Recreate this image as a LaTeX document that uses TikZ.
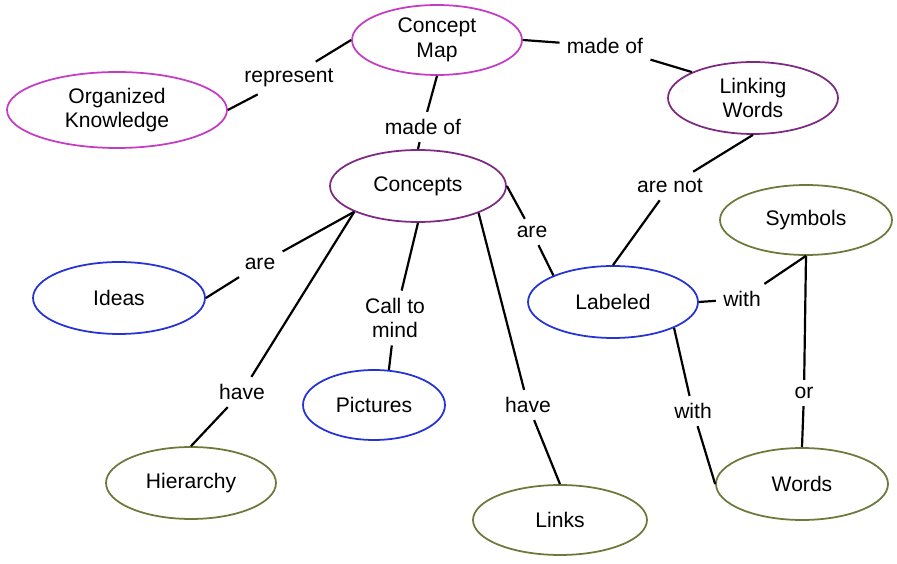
\documentclass[tikz,border=0pt]{standalone}
\usepackage{fontspec}
\setmainfont{Liberation Sans}
\usetikzlibrary{shapes.geometric}
\definecolor{cmpink}{HTML}{C43CC4}
\definecolor{cmpurple}{HTML}{7E2A82}
\definecolor{cmblue}{HTML}{2432D6}
\definecolor{cmgreen}{HTML}{6B7A3A}
\begin{document}
\begin{tikzpicture}[
    x=0.02cm, y=-0.02cm,
    font=\fontsize{12}{14}\selectfont,
    concept/.style={ellipse, draw, line width=1pt, inner sep=0pt, minimum width=3.44cm, minimum height=1.44cm, align=center},
    pinkc/.style={concept, draw=cmpink},
    purplec/.style={concept, draw=cmpurple},
    bluec/.style={concept, draw=cmblue},
    greenc/.style={concept, draw=cmgreen},
    word/.style={inner sep=4pt, align=center},
    conn/.style={line width=1.25pt, black}
]
\useasboundingbox (0,0) rectangle (897,564);

% concepts
\node[pinkc, minimum width=4.4cm, minimum height=1.52cm] (orgk) at (117,110) {Organized\\Knowledge};
\node[pinkc, minimum width=3.4cm, minimum height=1.4cm] (cmap) at (437,40) {Concept\\Map};
\node[purplec, minimum width=3.4cm] (linkw) at (753,98) {Linking\\Words};
\node[purplec, minimum width=3.52cm] (concepts) at (418,186) {Concepts};
\node[bluec] (ideas) at (119,298) {Ideas};
\node[bluec, minimum width=2.84cm, minimum height=1.4cm] (pictures) at (374,405) {Pictures};
\node[bluec, minimum width=3.4cm] (labeled) at (613,302) {Labeled};
\node[greenc, minimum width=3.4cm] (hierarchy) at (191,483) {Hierarchy};
\node[greenc, minimum height=1.4cm] (symbols) at (806,220) {Symbols};
\node[greenc] (words) at (802,484) {Words};
\node[greenc, minimum width=3.48cm, minimum height=1.4cm] (links) at (560,520) {Links};

% linking words
\node[word] (represent) at (289,78) {represent};
\node[word] (madeofa) at (605,46) {made of};
\node[word] (madeofb) at (423,127) {made of};
\node[word] (arenot) at (670,186) {are not};
\node[word] (arel) at (260,264) {are};
\node[word] (havel) at (242,392) {have};
\node[word] (callto) at (395,318) {Call to\\mind};
\node[word] (arer) at (532,232) {are};
\node[word] (haver) at (528,405) {have};
\node[word] (witha) at (742,299) {with};
\node[word] (withb) at (693,411) {with};
\node[word] (or) at (804,393) {or};

% connections
\draw[conn] (orgk.east) -- (represent);
\draw[conn] (represent) -- (cmap.west);
\draw[conn] (cmap.east) -- (madeofa);
\draw[conn] (madeofa) -- (linkw.157);
\draw[conn] (cmap.south) -- (madeofb);
\draw[conn] (madeofb) -- (concepts.north);
\draw[conn] (linkw.south) -- (arenot);
\draw[conn] (arenot) -- (labeled.north);
\draw[conn] (concepts.202) -- (arel);
\draw[conn] (arel) -- (ideas.east);
\draw[conn] (concepts.202) -- (havel);
\draw[conn] (havel) -- (hierarchy.north);
\draw[conn] (concepts.south) -- (callto);
\draw[conn] (callto) -- (pictures.67);
\draw[conn] (concepts.east) -- (arer);
\draw[conn] (arer) -- (labeled.156);
\draw[conn] (concepts.336) -- (haver);
\draw[conn] (haver) -- (links.north);
\draw[conn] (labeled.east) -- (witha);
\draw[conn] (witha) -- (symbols.south);
\draw[conn] (labeled.337) -- (withb);
\draw[conn] (withb) -- (words.west);
\draw[conn] (symbols.south) -- (or);
\draw[conn] (or) -- (words.north);
\end{tikzpicture}
\end{document}
